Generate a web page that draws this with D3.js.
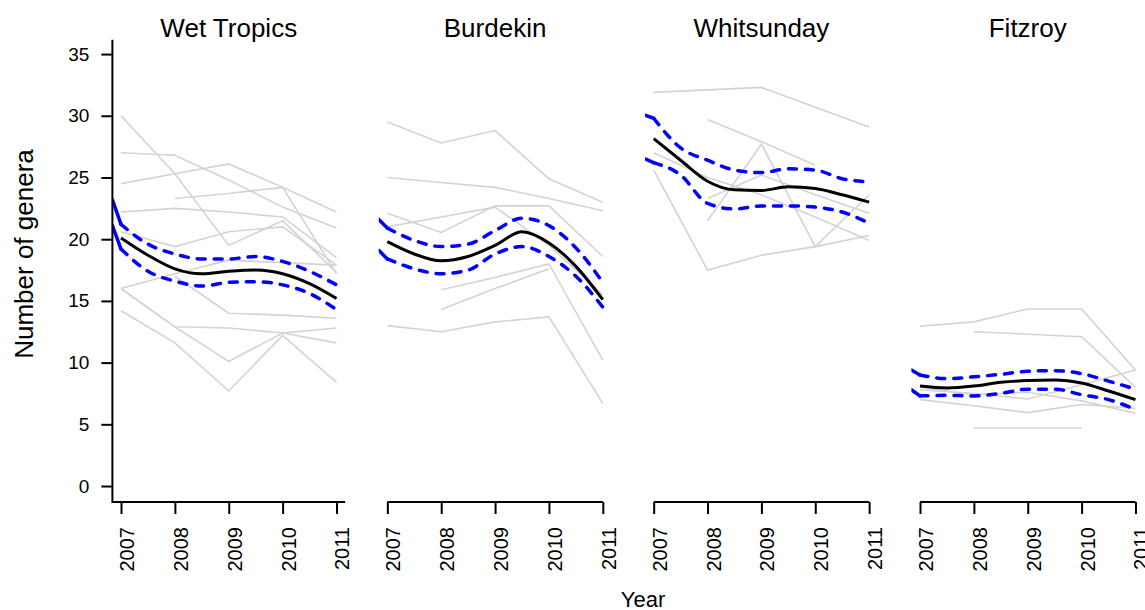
<!DOCTYPE html>
<html>
<head>
<meta charset="utf-8">
<script src="https://cdn.jsdelivr.net/npm/d3@7"></script>
<style>
  body { margin: 0; background: #fff; }
  text { font-family: "Liberation Sans", Arial, sans-serif; fill: #000; }
</style>
</head>
<body>
<div id="chart"></div>
<script>
// Chart data
// --------------------------------------------------------------------------------------------
const regions = ["Wet Tropics", "Burdekin", "Whitsunday", "Fitzroy"]
const years = [2007, 2008, 2009, 2010, 2011]
const yTicks = [0, 5, 10, 15, 20, 25, 30, 35]

// Raw site trajectories (one row per site, values for 2007..2011, null = not surveyed)
const sitesWetTropics = [
    [30.0, 25.3, 19.5, 21.5, 17.3],
    [27.0, 26.8, 24.8, 22.6, 20.9],
    [24.5, 25.3, 26.1, 24.2, 17.2],
    [null, 23.3, 23.7, 24.2, 22.2],
    [22.2, 22.5, 22.2, 21.8, 18.5],
    [20.6, 19.4, 20.6, 21.0, 17.9],
    [16.0, 17.2, 18.3, 18.1, 17.9],
    [16.0, 12.9, 12.8, 12.4, 12.8],
    [16.0, 12.9, 10.1, 12.4, 11.6],
    [14.2, 11.6, 7.7, 12.2, 8.4],
    [null, 17.0, 14.0, 13.85, 13.6]
]
const sitesBurdekin = [
    [29.5, 27.8, 28.8, 24.9, 23.0],
    [25.0, 24.6, 24.2, 23.3, 22.3],
    [22.1, 20.55, 22.7, 22.7, 18.6],
    [21.0, 21.8, 22.6, 19.5, 15.5],
    [null, 15.9, 16.9, 18.0, 10.2],
    [null, 14.3, 16.0, 17.6, null],
    [13.0, 12.5, 13.3, 13.7, 6.7]
]
const sitesWhitsunday = [
    [31.9, 32.1, 32.3, 30.7, 29.1],
    [null, 29.7, 27.9, 26.0, null],
    [27.0, 25.0, 23.6, 21.8, 19.9],
    [25.6, 17.5, 18.7, 19.4, 20.3],
    [null, 21.5, 27.7, 19.4, 23.6],
    [null, 23.3, 25.2, 23.6, 22.1]
]
const sitesFitzroy = [
    [12.95, 13.3, 14.35, 14.35, 9.4],
    [null, 12.5, 12.3, 12.1, 8.0],
    [7.8, 7.5, 7.05, 8.2, 9.4],
    [7.0, 6.5, 5.95, 6.6, 6.3],
    [8.0, 7.4, 7.6, 6.9, 5.9],
    [null, 4.7, 4.7, 4.7, null]
]

// Smoothed model fit: x positions, then mean / upper / lower per region
const fitYears = [2006.84, 2007, 2007.5, 2008, 2008.5, 2009, 2009.5, 2010, 2010.5, 2011]
const meanWetTropics  = [null, 20.1, 18.7, 17.6, 17.2, 17.4, 17.5, 17.2, 16.4, 15.2]
const upperWetTropics = [23.2, 21.2, 19.6, 18.8, 18.4, 18.4, 18.6, 18.2, 17.4, 16.3]
const lowerWetTropics = [21.1, 19.2, 17.4, 16.6, 16.2, 16.5, 16.55, 16.3, 15.6, 14.3]
const meanBurdekin  = [null, 19.8, 18.8, 18.25, 18.6, 19.5, 20.6, 19.7, 17.8, 15.1]
const upperBurdekin = [21.6, 20.9, 19.9, 19.4, 19.6, 20.7, 21.7, 21.1, 19.3, 16.5]
const lowerBurdekin = [19.1, 18.4, 17.6, 17.2, 17.5, 18.8, 19.4, 18.6, 17.0, 14.5]
const meanWhitsunday  = [null, 28.15, 26.4, 24.7, 24.0, 23.95, 24.25, 24.1, 23.6, 23.0]
const upperWhitsunday = [30.05, 29.8, 27.4, 26.4, 25.6, 25.4, 25.7, 25.6, 24.9, 24.65]
const lowerWhitsunday = [26.5, 26.2, 25.2, 22.9, 22.45, 22.7, 22.7, 22.6, 22.2, 21.3]
const meanFitzroy  = [null, 8.1, 7.95, 8.1, 8.4, 8.55, 8.6, 8.35, 7.7, 7.0]
const upperFitzroy = [9.4, 9.0, 8.7, 8.85, 9.05, 9.3, 9.35, 9.1, 8.5, 7.85]
const lowerFitzroy = [7.8, 7.3, 7.35, 7.3, 7.5, 7.85, 7.85, 7.4, 7.0, 6.2]

const sitesByRegion = [sitesWetTropics, sitesBurdekin, sitesWhitsunday, sitesFitzroy]
const meanByRegion = [meanWetTropics, meanBurdekin, meanWhitsunday, meanFitzroy]
const upperByRegion = [upperWetTropics, upperBurdekin, upperWhitsunday, upperFitzroy]
const lowerByRegion = [lowerWetTropics, lowerBurdekin, lowerWhitsunday, lowerFitzroy]


// Layout
// --------------------------------------------------------------------------------------------
const width = 1145, height = 610
const panelLeft0 = 112.4, panelStep = 266.33, panelW = 232.7
const plotTop = 36.8, plotBottom = 503.3
const axisY = 502

let svg = d3.select("#chart").append("svg")
    .attr("width", width)
    .attr("height", height)

let y = d3.scaleLinear().domain([-1.4, 36.4]).range([plotBottom, plotTop])

// helper: turn a row of values into {x, v} points, dropping gaps
function toPoints(xs, vs) {
    return xs.map((x, i) => ({ x: x, v: vs[i] })).filter(d => d.v !== null)
}

regions.forEach((name, i) => {
    let left = panelLeft0 + i * panelStep
    let x = d3.scaleLinear().domain([2006.84, 2011.16]).range([left, left + panelW])

    let g = svg.append("g").attr("class", "panel")

    // clip to the plot region
    let clipId = "clip" + i
    svg.append("clipPath").attr("id", clipId)
        .append("rect")
        .attr("x", left).attr("y", plotTop)
        .attr("width", panelW).attr("height", plotBottom - plotTop)

    let gData = g.append("g").attr("clip-path", "url(#" + clipId + ")")

    let line = d3.line()
        .x(d => x(d.x))
        .y(d => y(d.v))

    // grey site lines
    gData.append("g")
        .selectAll("path")
        .data(sitesByRegion[i].map(row => toPoints(years, row)))
        .join("path")
        .attr("d", line)
        .style("fill", "none")
        .style("stroke", "#d3d3d3")
        .style("stroke-width", 1.6)

    let smooth = d3.line()
        .x(d => x(d.x))
        .y(d => y(d.v))
        .curve(d3.curveMonotoneX)

    // confidence bands: solid lead-in before 2007, dashed afterwards
    ;[upperByRegion[i], lowerByRegion[i]].forEach(vals => {
        let pts = toPoints(fitYears, vals)
        let lead = pts.filter(d => d.x <= 2007)
        let rest = pts.filter(d => d.x >= 2007)
        gData.append("path")
            .attr("d", smooth(lead))
            .style("fill", "none")
            .style("stroke", "#0000ff")
            .style("stroke-width", 3.5)
            .style("stroke-linecap", "round")
        gData.append("path")
            .attr("d", smooth(rest))
            .style("fill", "none")
            .style("stroke", "#0000ff")
            .style("stroke-width", 3.5)
            .style("stroke-linecap", "round")
            .style("stroke-dasharray", "8,9")
    })

    // mean fit
    gData.append("path")
        .attr("d", smooth(toPoints(fitYears, meanByRegion[i])))
        .style("fill", "none")
        .style("stroke", "#000")
        .style("stroke-width", 3)

    // panel title
    g.append("text")
        .attr("x", left + panelW / 2)
        .attr("y", 37)
        .attr("text-anchor", "middle")
        .style("font-size", "26px")
        .text(name)

    // x axis
    let xAxis = g.append("g")
        .attr("transform", "translate(0," + axisY + ")")
        .call(d3.axisBottom(x).tickValues(years).tickSize(12).tickFormat(d3.format("d")))
    xAxis.select(".domain").remove()
    xAxis.selectAll("line").style("stroke-width", 2)
    xAxis.selectAll("text")
        .attr("transform", "rotate(-90)")
        .attr("text-anchor", "end")
        .attr("x", -25)
        .attr("y", 12.5)
        .attr("dy", 0)
        .style("font-size", "20px")
        .style("font-family", "'Liberation Sans', Arial, sans-serif")

    // axis baseline: first panel has an L-shaped box, others span the ticks
    let x0 = i == 0 ? left : x(years[0])
    let x1 = i == 0 ? left + panelW : x(years[years.length - 1])
    g.append("line")
        .attr("x1", x0).attr("x2", x1)
        .attr("y1", axisY).attr("y2", axisY)
        .style("stroke", "#000")
        .style("stroke-width", 2)

    if (i == 0) {
        let yAxis = g.append("g")
            .attr("transform", "translate(" + left + ",0)")
            .call(d3.axisLeft(y).tickValues(yTicks).tickSize(11))
        yAxis.select(".domain").remove()
        yAxis.selectAll("line").style("stroke-width", 2)
        yAxis.selectAll("text")
            .attr("x", -23)
            .style("font-size", "19px")
            .style("font-family", "'Liberation Sans', Arial, sans-serif")

        g.append("line")
            .attr("x1", left).attr("x2", left)
            .attr("y1", plotTop + 3).attr("y2", axisY + 1)
            .style("stroke", "#000")
            .style("stroke-width", 2)
    }
})

// shared axis titles
svg.append("text")
    .attr("transform", "translate(33," + 254 + ") rotate(-90)")
    .attr("text-anchor", "middle")
    .style("font-size", "26px")
    .text("Number of genera")

svg.append("text")
    .attr("x", 643)
    .attr("y", 607)
    .attr("text-anchor", "middle")
    .style("font-size", "22px")
    .text("Year")
</script>
</body>
</html>
